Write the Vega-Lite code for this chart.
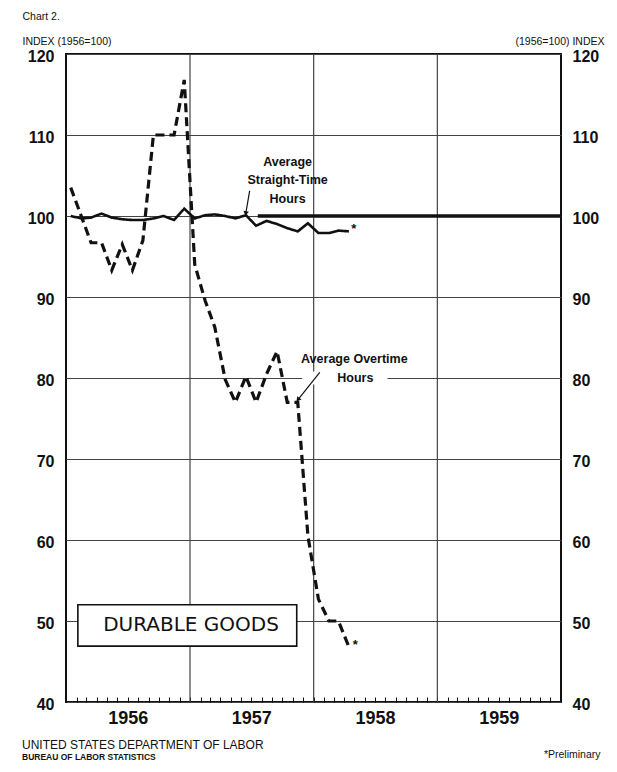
{
  "$schema": "https://vega.github.io/schema/vega-lite/v6.json",
  "width": 495,
  "height": 648,
  "autosize": {"type": "none"},
  "padding": {"left": 66, "top": 54, "right": 56, "bottom": 70},
  "background": "white",
  "config": {
    "view": {"stroke": "#111", "strokeWidth": 2},
    "font": "Liberation Sans"
  },
  "title": {
    "text": "UNITED STATES DEPARTMENT OF LABOR",
    "subtitle": "BUREAU OF LABOR STATISTICS",
    "orient": "bottom",
    "anchor": "start",
    "frame": "group",
    "font": "Liberation Sans",
    "fontSize": 12,
    "fontWeight": "normal",
    "color": "#111",
    "subtitleFont": "Liberation Sans",
    "subtitleFontSize": 8.5,
    "subtitleFontWeight": "bold",
    "subtitleColor": "#111",
    "subtitlePadding": 1,
    "dx": -44,
    "dy": -28,
    "offset": 8
  },
  "datasets": {
    "series": [
      {"month": "1956-01-15", "series": "Average Straight-Time Hours", "index": 100.0},
      {"month": "1956-02-15", "series": "Average Straight-Time Hours", "index": 99.7},
      {"month": "1956-03-15", "series": "Average Straight-Time Hours", "index": 99.8},
      {"month": "1956-04-15", "series": "Average Straight-Time Hours", "index": 100.3},
      {"month": "1956-05-15", "series": "Average Straight-Time Hours", "index": 99.8},
      {"month": "1956-06-15", "series": "Average Straight-Time Hours", "index": 99.6},
      {"month": "1956-07-15", "series": "Average Straight-Time Hours", "index": 99.5},
      {"month": "1956-08-15", "series": "Average Straight-Time Hours", "index": 99.5},
      {"month": "1956-09-15", "series": "Average Straight-Time Hours", "index": 99.7},
      {"month": "1956-10-15", "series": "Average Straight-Time Hours", "index": 100.0},
      {"month": "1956-11-15", "series": "Average Straight-Time Hours", "index": 99.5},
      {"month": "1956-12-15", "series": "Average Straight-Time Hours", "index": 100.9},
      {"month": "1957-01-15", "series": "Average Straight-Time Hours", "index": 99.7},
      {"month": "1957-02-15", "series": "Average Straight-Time Hours", "index": 100.1},
      {"month": "1957-03-15", "series": "Average Straight-Time Hours", "index": 100.2},
      {"month": "1957-04-15", "series": "Average Straight-Time Hours", "index": 100.0},
      {"month": "1957-05-15", "series": "Average Straight-Time Hours", "index": 99.7},
      {"month": "1957-06-15", "series": "Average Straight-Time Hours", "index": 100.1},
      {"month": "1957-07-15", "series": "Average Straight-Time Hours", "index": 98.8},
      {"month": "1957-08-15", "series": "Average Straight-Time Hours", "index": 99.4},
      {"month": "1957-09-15", "series": "Average Straight-Time Hours", "index": 99.0},
      {"month": "1957-10-15", "series": "Average Straight-Time Hours", "index": 98.5},
      {"month": "1957-11-15", "series": "Average Straight-Time Hours", "index": 98.1},
      {"month": "1957-12-15", "series": "Average Straight-Time Hours", "index": 99.1},
      {"month": "1958-01-15", "series": "Average Straight-Time Hours", "index": 97.9},
      {"month": "1958-02-15", "series": "Average Straight-Time Hours", "index": 97.9},
      {"month": "1958-03-15", "series": "Average Straight-Time Hours", "index": 98.2},
      {"month": "1958-04-15", "series": "Average Straight-Time Hours", "index": 98.1},
      {"month": "1956-01-15", "series": "Average Overtime Hours", "index": 103.5},
      {"month": "1956-02-15", "series": "Average Overtime Hours", "index": 100.0},
      {"month": "1956-03-15", "series": "Average Overtime Hours", "index": 96.7},
      {"month": "1956-04-15", "series": "Average Overtime Hours", "index": 96.7},
      {"month": "1956-05-15", "series": "Average Overtime Hours", "index": 93.3},
      {"month": "1956-06-15", "series": "Average Overtime Hours", "index": 96.5},
      {"month": "1956-07-15", "series": "Average Overtime Hours", "index": 93.3},
      {"month": "1956-08-15", "series": "Average Overtime Hours", "index": 97.0},
      {"month": "1956-09-15", "series": "Average Overtime Hours", "index": 110.0},
      {"month": "1956-10-15", "series": "Average Overtime Hours", "index": 110.0},
      {"month": "1956-11-15", "series": "Average Overtime Hours", "index": 110.0},
      {"month": "1956-12-15", "series": "Average Overtime Hours", "index": 116.8},
      {"month": "1957-01-15", "series": "Average Overtime Hours", "index": 94.0},
      {"month": "1957-02-15", "series": "Average Overtime Hours", "index": 89.5},
      {"month": "1957-03-15", "series": "Average Overtime Hours", "index": 86.3},
      {"month": "1957-04-15", "series": "Average Overtime Hours", "index": 79.8},
      {"month": "1957-05-15", "series": "Average Overtime Hours", "index": 77.0},
      {"month": "1957-06-15", "series": "Average Overtime Hours", "index": 80.2},
      {"month": "1957-07-15", "series": "Average Overtime Hours", "index": 77.0},
      {"month": "1957-08-15", "series": "Average Overtime Hours", "index": 80.5},
      {"month": "1957-09-15", "series": "Average Overtime Hours", "index": 83.3},
      {"month": "1957-10-15", "series": "Average Overtime Hours", "index": 77.0},
      {"month": "1957-11-15", "series": "Average Overtime Hours", "index": 77.0},
      {"month": "1957-12-15", "series": "Average Overtime Hours", "index": 60.5},
      {"month": "1958-01-15", "series": "Average Overtime Hours", "index": 52.7},
      {"month": "1958-02-15", "series": "Average Overtime Hours", "index": 50.0},
      {"month": "1958-03-15", "series": "Average Overtime Hours", "index": 50.0},
      {"month": "1958-04-15", "series": "Average Overtime Hours", "index": 46.8}
    ],
    "yearlines": [
      {"month": "1957-01-01"},
      {"month": "1958-01-01"},
      {"month": "1959-01-01"}
    ],
    "base": [
      {"month": "1957-07-20", "end": "1960-01-01", "index": 100}
    ],
    "box": [
      {"month": "1956-02-05", "end": "1957-11-12", "top": 52.0, "bottom": 46.9}
    ],
    "mask": [
      {"month": "1957-11-28", "end": "1958-08-07", "top": 80.8, "bottom": 79.2}
    ],
    "notes": [
      {"month": "1957-10-16", "index": 106.7, "text": "Average"},
      {"month": "1957-10-16", "index": 104.4, "text": "Straight-Time"},
      {"month": "1957-10-16", "index": 102.1, "text": "Hours"},
      {"month": "1958-05-01", "index": 82.3, "text": "Average Overtime"},
      {"month": "1958-05-04", "index": 80.0, "text": "Hours"}
    ],
    "stars": [
      {"month": "1958-04-22", "index": 98.4, "text": "*"},
      {"month": "1958-04-26", "index": 47.0, "text": "*"}
    ],
    "arrows": [
      {"month": "1957-06-26", "fromIndex": 103.1, "to": "1957-06-15", "toIndex": 100.4, "which": "straight"},
      {"month": "1958-01-19", "fromIndex": 80.7, "to": "1957-11-17", "toIndex": 77.4, "which": "overtime"}
    ],
    "label": [
      {"month": "1957-01-04", "index": 49.5, "text": "DURABLE GOODS"}
    ]
  },
  "layer": [
    {
      "data": {"name": "yearlines"},
      "mark": {"type": "rule", "color": "#444", "strokeWidth": 1.2},
      "encoding": {
        "x": {
          "field": "month", "type": "temporal",
          "scale": {"type": "utc", "domain": [{"year": 1956, "month": 1, "date": 1, "utc": true}, {"year": 1960, "month": 1, "date": 1, "utc": true}]},
          "axis": {
            "tickCount": {"interval": "month", "step": 1},
            "labelExpr": "utcmonth(datum.value) == 6 ? utcFormat(datum.value, '%Y') : ''",
            "labelFont": "Liberation Sans", "labelFontWeight": "bold", "labelFontSize": 18,
            "labelColor": "#111", "labelPadding": 12, "labelBaseline": "top",
            "tickSize": -5, "tickColor": "#111", "tickWidth": 1,
            "domain": false, "grid": false, "labelOverlap": false, "labelFlush": false,
            "title": "*Preliminary", "titleFont": "Liberation Sans", "titleFontSize": 10.5,
            "titleFontWeight": "normal", "titleColor": "#111",
            "titleAnchor": "end", "titleAlign": "right", "titleBaseline": "alphabetic",
            "titleX": 534, "titleY": 55
          }
        }
      }
    },
    {
      "data": {"name": "box"},
      "mark": {"type": "rect", "fill": "white", "stroke": "#111", "strokeWidth": 1.6},
      "encoding": {
        "x": {"field": "month", "type": "temporal"},
        "x2": {"field": "end"},
        "y": {"field": "top", "type": "quantitative", "scale": {"domain": [40, 120], "nice": false, "zero": false}, "axis": null},
        "y2": {"field": "bottom"}
      }
    },
    {
      "data": {"name": "mask"},
      "mark": {"type": "rect", "fill": "white"},
      "encoding": {
        "x": {"field": "month", "type": "temporal"},
        "x2": {"field": "end"},
        "y": {"field": "top", "type": "quantitative", "axis": null},
        "y2": {"field": "bottom"}
      }
    },
    {
      "data": {"name": "series"},
      "mark": {"type": "line", "color": "#111", "strokeJoin": "miter", "strokeCap": "butt"},
      "encoding": {
        "x": {"field": "month", "type": "temporal"},
        "y": {
          "field": "index", "type": "quantitative",
          "scale": {"domain": [40, 120], "nice": false, "zero": false},
          "axis": {
            "orient": "left", "values": [40, 50, 60, 70, 80, 90, 100, 110, 120],
            "labelFont": "Liberation Sans", "labelFontWeight": "bold", "labelFontSize": 16,
            "labelColor": "#111", "labelPadding": 12, "labelOffset": 2, "ticks": false, "domain": false,
            "grid": true, "gridColor": "#444", "gridWidth": 1.1,
            "title": ["Chart 2.", "INDEX (1956=100)"],
            "titleFont": "Liberation Sans", "titleFontSize": 10.5, "titleFontWeight": "normal",
            "titleColor": "#111", "titleAngle": 0, "titleAlign": "left",
            "titleBaseline": "alphabetic", "titleLineHeight": 25,
            "titleX": -44, "titleY": -35
          }
        },
        "strokeDash": {
          "field": "series", "type": "nominal",
          "scale": {"domain": ["Average Straight-Time Hours", "Average Overtime Hours"], "range": [[1, 0], [9, 5]]},
          "legend": null
        },
        "strokeWidth": {
          "field": "series", "type": "nominal",
          "scale": {"domain": ["Average Straight-Time Hours", "Average Overtime Hours"], "range": [2.6, 3.2]},
          "legend": null
        }
      }
    },
    {
      "data": {"name": "base"},
      "mark": {"type": "rule", "color": "#111", "strokeWidth": 3.5},
      "encoding": {
        "x": {"field": "month", "type": "temporal"},
        "x2": {"field": "end"},
        "y": {
          "field": "index", "type": "quantitative",
          "axis": {
            "orient": "right", "values": [40, 50, 60, 70, 80, 90, 100, 110, 120],
            "labelFont": "Liberation Sans", "labelFontWeight": "bold", "labelFontSize": 16,
            "labelColor": "#111", "labelPadding": 11, "labelOffset": 2, "ticks": false, "domain": false,
            "grid": false,
            "title": "(1956=100) INDEX",
            "titleFont": "Liberation Sans", "titleFontSize": 10.5, "titleFontWeight": "normal",
            "titleColor": "#111", "titleAngle": 0, "titleAlign": "right",
            "titleBaseline": "alphabetic", "titleX": 43, "titleY": -10
          }
        }
      }
    },
    {
      "data": {"name": "arrows"},
      "mark": {"type": "rule", "color": "#111", "strokeWidth": 1.2},
      "encoding": {
        "x": {"field": "month", "type": "temporal"},
        "x2": {"field": "to"},
        "y": {"field": "fromIndex", "type": "quantitative", "axis": null},
        "y2": {"field": "toIndex"}
      }
    },
    {
      "data": {"name": "arrows"},
      "transform": [{"filter": "datum.which == 'straight'"}],
      "mark": {"type": "point", "shape": "triangle", "filled": true, "color": "#111", "size": 30, "angle": 190, "opacity": 1},
      "encoding": {
        "x": {"field": "to", "type": "temporal"},
        "y": {"field": "toIndex", "type": "quantitative", "axis": null}
      }
    },
    {
      "data": {"name": "arrows"},
      "transform": [{"filter": "datum.which == 'overtime'"}],
      "mark": {"type": "point", "shape": "triangle", "filled": true, "color": "#111", "size": 30, "angle": 218, "opacity": 1},
      "encoding": {
        "x": {"field": "to", "type": "temporal"},
        "y": {"field": "toIndex", "type": "quantitative", "axis": null}
      }
    },
    {
      "data": {"name": "notes"},
      "mark": {"type": "text", "font": "Liberation Sans", "fontWeight": "bold", "fontSize": 12.5, "color": "#111", "align": "center", "baseline": "middle"},
      "encoding": {
        "x": {"field": "month", "type": "temporal"},
        "y": {"field": "index", "type": "quantitative", "axis": null},
        "text": {"field": "text"}
      }
    },
    {
      "data": {"name": "stars"},
      "mark": {"type": "text", "font": "Liberation Sans", "fontWeight": "bold", "fontSize": 13, "color": "#111", "align": "left", "baseline": "middle"},
      "encoding": {
        "x": {"field": "month", "type": "temporal"},
        "y": {"field": "index", "type": "quantitative", "axis": null},
        "text": {"field": "text"}
      }
    },
    {
      "data": {"name": "label"},
      "mark": {"type": "text", "font": "DejaVu Sans", "fontSize": 20, "color": "#111", "align": "center", "baseline": "middle"},
      "encoding": {
        "x": {"field": "month", "type": "temporal"},
        "y": {"field": "index", "type": "quantitative", "axis": null},
        "text": {"field": "text"}
      }
    }
  ],
  "resolve": {"axis": {"y": "independent"}}
}
